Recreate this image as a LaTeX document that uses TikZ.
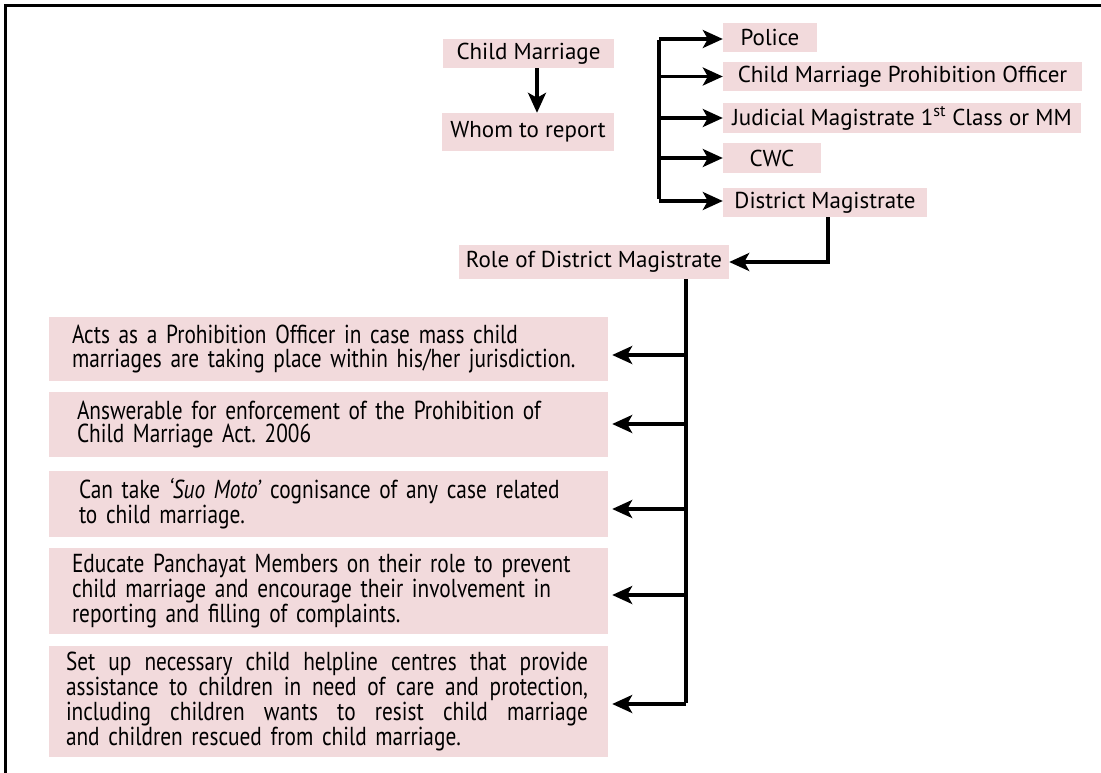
\documentclass[tikz,border=0pt]{standalone}
\usepackage{fontspec}
\setmainfont{PT Sans}
\newfontfamily\condfont[FakeStretch=0.82,WordSpace=0.7]{PT Sans}
\usetikzlibrary{arrows.meta,calc}
\definecolor{boxpink}{RGB}{242,218,220}
\frenchspacing
\newcommand\jline[1]{\leavevmode\hbox to 522pt{\spaceskip=0.2em plus 1fil\relax #1}}
\tikzset{
  pbox/.style={fill=boxpink, draw=none, inner sep=0pt, minimum height=29pt, font=\fontsize{23}{27}\selectfont, align=center},
  lbox/.style={fill=boxpink, draw=none, inner ysep=0pt, minimum height=#1, font=\condfont\fontsize{26}{23.5}\selectfont\frenchspacing, align=left, anchor=center},
  link/.style={line width=3.2pt, line cap=butt},
  arr/.style={link, -{Stealth[length=20pt,width=18pt,inset=5pt]}},
}
\begin{document}
\begin{tikzpicture}[x=1pt,y=-1pt]
\useasboundingbox (0,0) rectangle (1101,773);
% frame (cropped)
\draw[line width=3pt] (1101,6) -- (5.5,6) -- (5.5,773);

% top left column
\node[pbox, minimum width=171pt] (cm) at (528.5,53.5) {Child Marriage};
\node[pbox, minimum width=172pt, minimum height=38pt] (wr) at (528,132) {Whom to report};

% right column
\node[pbox, minimum width=94pt] (pol) at (770,37.5) {Police};
\node[pbox, minimum width=359pt] (cmpo) at (902.5,76.5) {Child Marriage Prohibition Officer};
\node[pbox, minimum width=358pt, minimum height=30pt] (jm) at (902,118) {Judicial Magistrate 1\textsuperscript{st} Class or MM};
\node[pbox, minimum width=98pt, minimum height=30pt] (cwc) at (772,158) {CWC};
\node[pbox, minimum width=204pt] (dm) at (825,202.5) {District Magistrate};

\node[pbox, minimum width=270pt, minimum height=34pt] (role) at (594,262) {Role of District Magistrate};

% lower boxes
\node[lbox=64pt, inner xsep=23pt, text width=513pt] (b1) at (328.5,349)
  {Acts as a Prohibition Officer in case mass child\\marriages are taking place within his/her jurisdiction.};
\node[lbox=65pt, inner xsep=28pt, text width=503pt] (b2) at (328.5,424.5)
  {Answerable for enforcement of the Prohibition of\\Child Marriage Act. 2006};
\node[lbox=66pt, inner xsep=30pt, text width=499pt] (b3) at (328.5,504)
  {Can take \textit{‘Suo Moto’} cognisance of any case related\\to child marriage.};
\node[lbox=86pt, inner xsep=23pt, text width=513pt] (b4) at (328.5,591)
  {Educate Panchayat Members on their role to prevent\\child marriage and encourage their involvement in\\reporting and filling of complaints.};
\node[lbox=111pt, inner xsep=17pt, text width=525pt] (b5) at (328.5,701.5)
  {\jline{Set up necessary child helpline centres that provide}\\
   \jline{assistance to children in need of care and protection,}\\
   \jline{including children wants to resist child marriage}\\
   and children rescued from child marriage.};

% connectors
\coordinate (cx) at (537,0);
\draw[arr] (cm.south -| cx) -- (wr.north -| cx);

\coordinate (br) at (659,0);
\draw[link] ([yshift=-3pt]pol.west -| br) -- ([yshift=3pt]dm.west -| br);
\foreach \n/\dy in {pol/-1.5, cmpo/0, jm/0, cwc/0, dm/1.5}
  \draw[arr] ([yshift=\dy pt]\n.west -| br) -- ([yshift=\dy pt]\n.west);

\coordinate (dx) at (828,0);
\draw[arr] (dm.south -| dx) |- (role.east);

\coordinate (rx) at (686,0);
\draw[link] (role.south -| rx) -- ([yshift=-1pt]b5.east -| rx);
\foreach \n/\dy in {b1/-6, b2/0.5, b3/-5, b4/-4, b5/-2.5}
  \draw[arr] ([yshift=\dy pt]\n.east -| rx) -- ([xshift=4pt,yshift=\dy pt]\n.east);
\end{tikzpicture}
\end{document}
